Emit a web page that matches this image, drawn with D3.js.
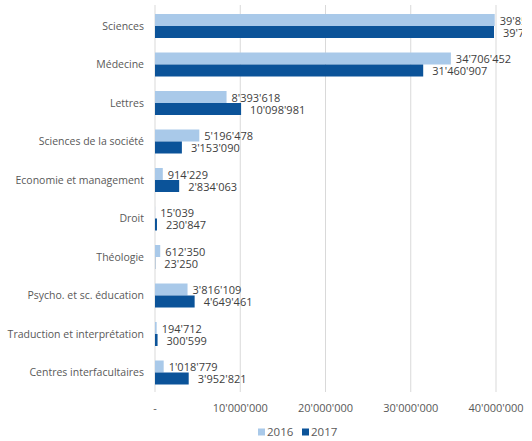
<!DOCTYPE html>
<html>
<head>
<meta charset="utf-8">
<script src="https://cdn.jsdelivr.net/npm/d3@7"></script>
<style>
  body { margin: 0; background: #fff; }
  text { font-family: "Open Sans", sans-serif; }
</style>
</head>
<body>
<div id="chart"></div>
<script>
// categories and values
const categories = ["Sciences", "Médecine", "Lettres", "Sciences de la société",
    "Economie et management", "Droit", "Théologie", "Psycho. et sc. éducation",
    "Traduction et interprétation", "Centres interfacultaires"];
const values2016 = [39851204, 34706452, 8393618, 5196478, 914229, 15039, 612350, 3816109, 194712, 1018779];
const values2017 = [39766532, 31460907, 10098981, 3153090, 2834063, 230847, 23250, 4649461, 300599, 3952821];
const years = ["2016", "2017"];
const tickValues = [0, 10000000, 20000000, 30000000, 40000000];

const width = 532, height = 441;
const colors = ["#a9c9e9", "#0b5399"];

const svg = d3.select("#chart")
    .append("svg")
    .attr("width", width)
    .attr("height", height);

// the original picture is cropped just right of the plot
svg.append("clipPath")
    .attr("id", "crop")
    .append("rect")
    .attr("x", 0)
    .attr("y", 0)
    .attr("width", 522)
    .attr("height", height);

const x = d3.scaleLinear().domain([0, 40000000]).range([155, 496]);
const y = d3.scaleBand().domain(categories).range([6.75, 391.75]);
const barH = 12;

const fmt = v => v === 0 ? "-" : d3.format(",")(v).replace(/,/g, "'");

// gridlines
svg.selectAll("line.grid")
    .data(tickValues)
    .enter()
    .append("line")
    .attr("x1", d => x(d))
    .attr("x2", d => x(d))
    .attr("y1", 5)
    .attr("y2", 392)
    .attr("stroke", "#d9d9d9")
    .attr("stroke-width", 1);

// tick labels
svg.selectAll("text.tick")
    .data(tickValues)
    .enter()
    .append("text")
    .attr("x", d => x(d))
    .attr("y", 408)
    .attr("dy", "0.35em")
    .attr("text-anchor", "middle")
    .attr("font-size", 11)
    .attr("fill", "#595959")
    .text(fmt);

// category labels
svg.selectAll("text.cat")
    .data(categories)
    .enter()
    .append("text")
    .attr("x", 144)
    .attr("y", d => y(d) + y.bandwidth() / 2)
    .attr("dy", "0.35em")
    .attr("text-anchor", "end")
    .attr("font-size", 10.5)
    .attr("fill", "#595959")
    .text(d => d);

const labels = svg.append("g").attr("clip-path", "url(#crop)");

// bars + labels per series
[values2016, values2017].forEach((vals, s) => {
    const rows = categories.map((c, i) => ({ c, v: vals[i] }));
    const top = d => y(d.c) + y.bandwidth() / 2 - barH + s * barH;

    svg.selectAll("rect.s" + s)
        .data(rows)
        .enter()
        .append("rect")
        .attr("x", x(0))
        .attr("y", top)
        .attr("width", d => x(d.v) - x(0))
        .attr("height", barH)
        .attr("fill", colors[s]);

    labels.selectAll("text.s" + s)
        .data(rows)
        .enter()
        .append("text")
        .attr("x", d => x(d.v) + (s === 0 ? 5 : 9))
        .attr("y", d => top(d) + barH / 2 + 1)
        .attr("dy", "0.35em")
        .attr("font-size", 11)
        .attr("fill", "#404040")
        .text(d => fmt(d.v));
});

// legend
const legendX = [258, 302];
const legend = svg.selectAll("g.legend")
    .data(years)
    .enter()
    .append("g")
    .attr("transform", (d, i) => `translate(${legendX[i]}, 432)`);

legend.append("rect")
    .attr("x", 0)
    .attr("y", -3.5)
    .attr("width", 7)
    .attr("height", 7)
    .attr("fill", (d, i) => colors[i]);

legend.append("text")
    .attr("x", 9)
    .attr("dy", "0.35em")
    .attr("font-size", 11.5)
    .attr("fill", "#595959")
    .text(d => d);
</script>
</body>
</html>
